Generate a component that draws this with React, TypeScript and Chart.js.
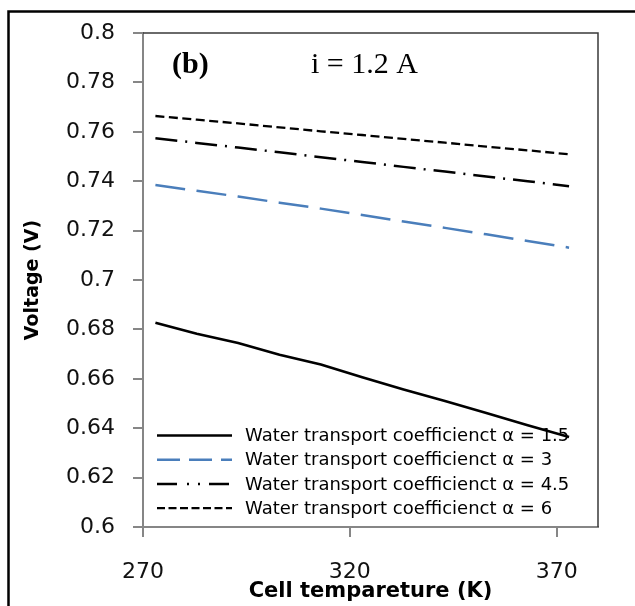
import React, { useEffect, useRef } from "react";
import { Chart, registerables } from "chart.js";

Chart.register(...registerables);

const temperatures = [273, 283, 293, 303, 313, 323, 333, 343, 353, 363, 373];
const alpha15 = [0.6827, 0.6782, 0.6745, 0.6697, 0.6658, 0.6606, 0.6557, 0.651, 0.6462, 0.6412, 0.6364];
const alpha3 = [0.7385, 0.7361, 0.7338, 0.7313, 0.7289, 0.7263, 0.7237, 0.7211, 0.7185, 0.7158, 0.7131];
const alpha45 = [0.7574, 0.7555, 0.7536, 0.7517, 0.7497, 0.7478, 0.7458, 0.7439, 0.7419, 0.74, 0.738];
const alpha6 = [0.7664, 0.7649, 0.7634, 0.7618, 0.7602, 0.7587, 0.7571, 0.7556, 0.754, 0.7525, 0.7509];
const seriesLabels = [
  "Water transport coefficienct α = 1.5",
  "Water transport coefficienct α = 3",
  "Water transport coefficienct α = 4.5",
  "Water transport coefficienct α = 6",
];
const xTicks = [270, 320, 370];
const panelLabel = "(b)";
const currentLabel = "i = 1.2 A";
const xTitle = "Cell tempareture (K)";
const yTitle = "Voltage (V)";

const toPts = (ys: number[]) => ys.map((y, i) => ({ x: temperatures[i], y }));

const legendDashes = [[], [23, 9], [20, 10, 2, 9, 2, 9], [8, 3.5]];

const framePlugin = {
  id: "frame",
  beforeDraw(chart: any) {
    const { ctx } = chart;
    ctx.save();
    ctx.fillStyle = "#fff";
    ctx.fillRect(0, 0, chart.width, chart.height);
    ctx.strokeStyle = "#000";
    ctx.lineWidth = 2.5;
    ctx.beginPath();
    ctx.moveTo(8.5, chart.height + 10);
    ctx.lineTo(8.5, 11.5);
    ctx.lineTo(chart.width + 10, 11.5);
    ctx.stroke();
    ctx.restore();
  },
  afterDraw(chart: any) {
    const { ctx, chartArea: a } = chart;
    ctx.save();
    ctx.strokeStyle = "#3a3a3a";
    ctx.lineWidth = 1.5;
    ctx.beginPath();
    ctx.moveTo(a.left, a.top);
    ctx.lineTo(a.right, a.top);
    ctx.lineTo(a.right, a.bottom);
    ctx.stroke();
    ctx.restore();
  },
};

const legendPlugin = {
  id: "insideLegend",
  afterDatasetsDraw(chart: any) {
    const { ctx, chartArea: a } = chart;
    ctx.save();
    chart.data.datasets.forEach((ds: any, i: number) => {
      const y = 435.5 + i * 24.2;
      ctx.strokeStyle = ds.borderColor;
      ctx.lineWidth = ds.borderWidth;
      ctx.setLineDash(legendDashes[i]);
      ctx.beginPath();
      ctx.moveTo(a.left + 14, y);
      ctx.lineTo(a.left + 89, y);
      ctx.stroke();
      ctx.setLineDash([]);
      ctx.fillStyle = "#000";
      ctx.font = "18px 'DejaVu Sans'";
      ctx.textBaseline = "middle";
      ctx.textAlign = "left";
      ctx.fillText(ds.label, a.left + 102, y + 1);
    });
    ctx.restore();
  },
};

const annotationPlugin = {
  id: "annotations",
  afterDraw(chart: any) {
    const { ctx } = chart;
    ctx.save();
    ctx.fillStyle = "#000";
    ctx.textBaseline = "alphabetic";
    ctx.textAlign = "left";
    ctx.font = "bold 30px 'Liberation Serif'";
    ctx.fillText(panelLabel, 172, 73);
    ctx.font = "30px 'Liberation Serif'";
    ctx.fillText(currentLabel, 311, 73);
    ctx.restore();
  },
};

export default function App() {
  const ref = useRef<HTMLCanvasElement | null>(null);
  useEffect(() => {
    if (!ref.current) return;
    const common = { pointRadius: 0, fill: false, tension: 0, borderCapStyle: "butt" };
    const chart = new Chart(ref.current, {
      type: "line",
      data: {
        datasets: [
          { ...common, label: seriesLabels[0], data: toPts(alpha15), borderColor: "#000", borderWidth: 2.6 },
          { ...common, label: seriesLabels[1], data: toPts(alpha3), borderColor: "#4a7ebb", borderWidth: 2.5, borderDash: [30, 11.5] },
          { ...common, label: seriesLabels[2], data: toPts(alpha45), borderColor: "#000", borderWidth: 2.5, borderDash: [22, 8, 2, 8] },
          { ...common, label: seriesLabels[3], data: toPts(alpha6), borderColor: "#000", borderWidth: 2.3, borderDash: [9, 4.5] },
        ] as any,
      },
      options: {
        responsive: false,
        animation: false,
        devicePixelRatio: 1,
        layout: { padding: { left: 0, top: 33, right: 37, bottom: 0 } },
        plugins: { legend: { display: false }, tooltip: { enabled: false } },
        scales: {
          x: {
            type: "linear",
            min: 270,
            max: 380,
            afterBuildTicks: (s: any) => {
              s.ticks = xTicks.map((v) => ({ value: v }));
            },
            afterFit: (s: any) => {
              s.height = 79;
            },
            grid: { display: true, drawOnChartArea: false, drawTicks: true, tickLength: 10, color: "#868686", lineWidth: 2 },
            border: { display: true, color: "#868686", width: 2 },
            ticks: { color: "#111", font: { family: "'DejaVu Sans'", size: 22 }, padding: 22, maxRotation: 0 },
            title: { display: true, text: xTitle, color: "#000", font: { family: "'DejaVu Sans'", size: 21, weight: "bold" }, padding: { top: 0, bottom: 2 } },
          },
          y: {
            type: "linear",
            min: 0.6,
            max: 0.8,
            ticks: {
              stepSize: 0.02,
              color: "#111",
              font: { family: "'DejaVu Sans'", size: 22 },
              padding: 18,
              callback: (v: any) => String(Number(Number(v).toFixed(2))),
            },
            afterFit: (s: any) => {
              s.width = 143;
            },
            grid: { display: true, drawOnChartArea: false, drawTicks: true, tickLength: 10, color: "#868686", lineWidth: 2 },
            border: { display: true, color: "#868686", width: 2 },
            title: { display: true, text: yTitle, color: "#000", font: { family: "'DejaVu Sans'", size: 19, weight: "bold" }, padding: { top: 22, bottom: 0 } },
          },
        },
      } as any,
      plugins: [framePlugin, legendPlugin, annotationPlugin],
    });
    return () => chart.destroy();
  }, []);
  return (
    <div style={{ position: "absolute", left: 0, top: 0, width: 635, height: 606 }}>
      <canvas ref={ref} width={635} height={606} style={{ width: 635, height: 606, display: "block" }} />
    </div>
  );
}
